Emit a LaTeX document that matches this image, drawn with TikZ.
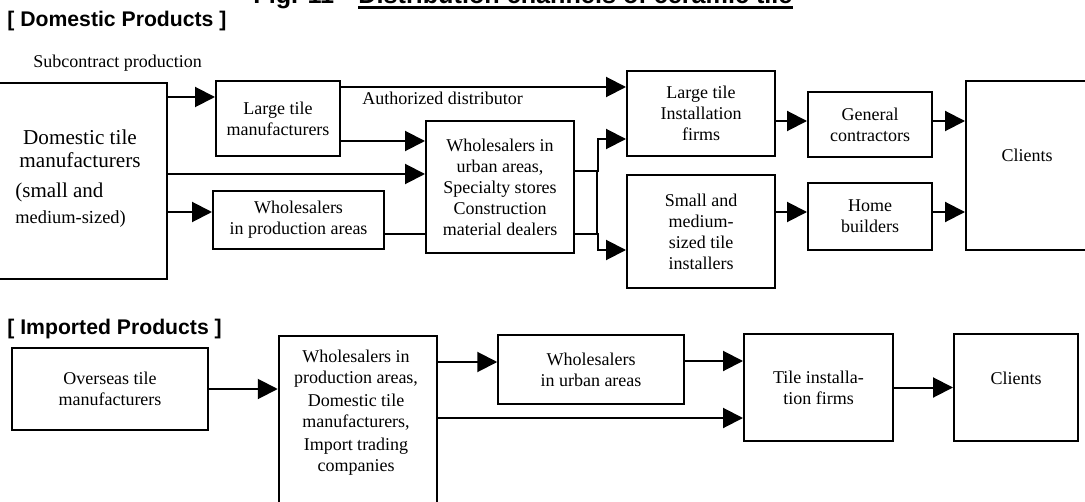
\documentclass[tikz,border=0pt]{standalone}
\usepackage{fontspec}
\setmainfont{Liberation Serif}
\newfontfamily\headfont{Liberation Sans}
\usetikzlibrary{arrows.meta}

\tikzset{
  txt/.style={font=\fontsize{9}{10.5}\selectfont, align=center, inner sep=0pt},
  box/.style={draw, line width=1pt, txt},
  arr/.style={line width=1pt, -{Triangle[length=10pt,width=10pt]}},
  lin/.style={line width=1pt},
  head/.style={font=\headfont\bfseries\fontsize{10.6}{12}\selectfont, inner sep=0pt, anchor=base west}
}

\begin{document}
\begin{tikzpicture}[x=0.5pt,y=-0.5pt]
\useasboundingbox (0,0) rectangle (1085,502);

% -------------------------------------------------
% Title and headings
% -------------------------------------------------
\node[head, font=\headfont\bfseries\fontsize{12.6}{14}\selectfont] (fig) at (253,4) {Fig. 11};
\node[head, font=\headfont\bfseries\fontsize{12.6}{14}\selectfont] (ttl) at (358,4) {Distribution channels of ceramic tile};
\draw[line width=1.25pt] ([yshift=-1.7pt]ttl.base west) -- ([yshift=-1.7pt]ttl.base east);
\node[head] (dhead) at (7,27) {[ Domestic Products ]};
\node[head] (ihead) at (7,334) {[ Imported Products ]};

% -------------------------------------------------
% Domestic products : boxes
% -------------------------------------------------
\node[box, minimum width=85pt, minimum height=98pt] (dom) at (82,181) {};
\node[font=\fontsize{10.6}{11.5}\selectfont, align=center, inner sep=0pt] (domtxt) at (80,149) {Domestic tile\\manufacturers};
\node[font=\fontsize{10.5}{12}\selectfont, inner sep=0pt, anchor=base west] (small) at (15,198) {(small and};
\node[font=\fontsize{9.2}{11}\selectfont, inner sep=0pt, anchor=base west] (medium) at (15,223) {medium-sized)};

\node[box, minimum width=62pt, minimum height=37.5pt] (lt) at (278,118.5) {Large tile\\manufacturers};
\node[box, minimum width=85.5pt, minimum height=29pt] (wp) at (298.5,220) {Wholesalers\\in production areas};
\node[box, minimum width=74pt, minimum height=66pt] (urb) at (500,187) {Wholesalers in\\urban areas,\\Specialty stores\\Construction\\material dealers};
\node[box, minimum width=74pt, minimum height=42.5pt] (lif) at (701,113.5) {Large tile\\Installation\\firms};
\node[box, minimum width=74pt, minimum height=56.5pt] (sm) at (701,231.5) {Small and\\medium-\\sized tile\\installers};
\node[box, minimum width=62pt, minimum height=32.5pt] (gc) at (870,124.5) {General\\contractors};
\node[box, minimum width=62pt, minimum height=33.5pt] (hb) at (870,216.5) {Home\\builders};
\node[box, minimum width=61pt, minimum height=84.5pt] (cl) at (1027,165.5) {};
\node[txt] (cltxt) at (1027,155) {Clients};

% -------------------------------------------------
% Domestic products : connectors
% -------------------------------------------------
\node[txt, anchor=base west] (subc) at (33,68) {Subcontract production};
\node[txt, anchor=base west] (auth) at (362,105) {Authorized distributor};

\draw[arr] (dom.east |- 0,97) -- (lt.west |- 0,97);
\draw[arr] (lt.east |- 0,87) -- (lif.west |- 0,87);
\draw[arr] (lt.east |- 0,141) -- (urb.west |- 0,141);
\draw[arr] (dom.east |- 0,174) -- (urb.west |- 0,174);
\draw[arr] (dom.east |- 0,212) -- (wp.west |- 0,212);
\draw[lin] (wp.east |- 0,234) -- (urb.west |- 0,234);

\draw[arr] (urb.east |- 0,171) -- ++(23,0) |- (lif.west |- 0,139);
\draw[arr] (urb.east |- 0,234) -- ++(23,0) |- (sm.west |- 0,250);
\draw[lin] (597,171) -- (597,234);

\draw[arr] (lif.east |- 0,121) -- (gc.west |- 0,121);
\draw[arr] (sm.east |- 0,212) -- (hb.west |- 0,212);
\draw[arr] (gc.east |- 0,121) -- (cl.west |- 0,121);
\draw[arr] (hb.east |- 0,212) -- (cl.west |- 0,212);

% -------------------------------------------------
% Imported products : boxes
% -------------------------------------------------
\node[box, minimum width=97.75pt, minimum height=41pt] (ovs) at (110,389) {Overseas tile\\manufacturers};
\node[box, minimum width=79.25pt, minimum height=89.5pt] (imp) at (358,425.5) {};
\node[txt] (imptxt) at (356,413) {Wholesalers in\\production areas,\\[1pt]Domestic tile\\manufacturers,\\[1pt]Import trading\\companies};
\node[box, minimum width=92.75pt, minimum height=34.5pt] (urb2) at (591,369.5) {Wholesalers\\in urban areas};
\node[box, minimum width=74.5pt, minimum height=53.5pt] (tif) at (818.5,387.5) {Tile installa-\\tion firms};
\node[box, minimum width=62pt, minimum height=53.5pt] (cl2) at (1016,387.5) {};
\node[txt] (cl2txt) at (1016,378) {Clients};

% -------------------------------------------------
% Imported products : connectors
% -------------------------------------------------
\draw[arr] (ovs.east) -- (imp.west |- ovs.east);
\draw[arr] (imp.east |- 0,362) -- (urb2.west |- 0,362);
\draw[arr] (imp.east |- 0,418) -- (tif.west |- 0,418);
\draw[arr] (urb2.east |- 0,361) -- (tif.west |- 0,361);
\draw[arr] (tif.east) -- (cl2.west);

\end{tikzpicture}
\end{document}
